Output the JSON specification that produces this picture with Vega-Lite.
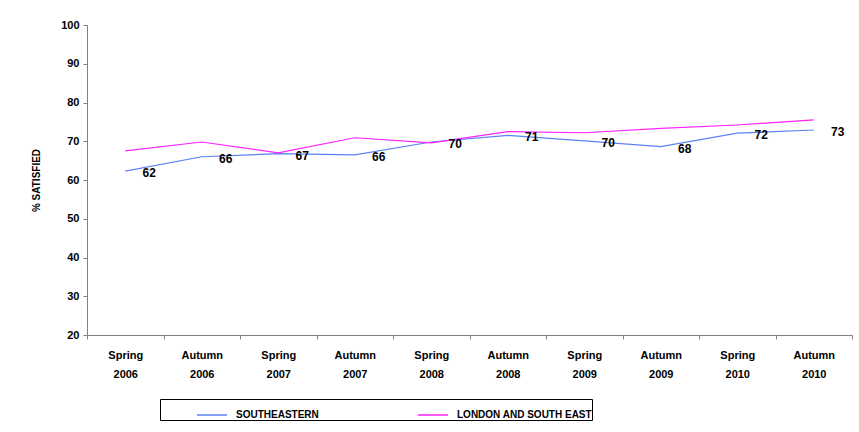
{
  "$schema": "https://vega.github.io/schema/vega-lite/v6.json",
  "width": 765,
  "height": 310,
  "autosize": {"type": "none"},
  "padding": {"left": 87, "top": 25, "right": 7, "bottom": 97},
  "background": "white",
  "config": {
    "view": {"stroke": null},
    "font": "Liberation Sans"
  },
  "data": {
    "values": [
      {"period": "Spring 2006", "series": "SOUTHEASTERN", "value": 62.3, "label": "62"},
      {"period": "Autumn 2006", "series": "SOUTHEASTERN", "value": 66.0, "label": "66"},
      {"period": "Spring 2007", "series": "SOUTHEASTERN", "value": 66.8, "label": "67"},
      {"period": "Autumn 2007", "series": "SOUTHEASTERN", "value": 66.5, "label": "66"},
      {"period": "Spring 2008", "series": "SOUTHEASTERN", "value": 69.8, "label": "70"},
      {"period": "Autumn 2008", "series": "SOUTHEASTERN", "value": 71.5, "label": "71"},
      {"period": "Spring 2009", "series": "SOUTHEASTERN", "value": 70.1, "label": "70"},
      {"period": "Autumn 2009", "series": "SOUTHEASTERN", "value": 68.6, "label": "68"},
      {"period": "Spring 2010", "series": "SOUTHEASTERN", "value": 72.1, "label": "72"},
      {"period": "Autumn 2010", "series": "SOUTHEASTERN", "value": 72.9, "label": "73"},
      {"period": "Spring 2006", "series": "LONDON AND SOUTH EAST", "value": 67.5, "label": ""},
      {"period": "Autumn 2006", "series": "LONDON AND SOUTH EAST", "value": 69.8, "label": ""},
      {"period": "Spring 2007", "series": "LONDON AND SOUTH EAST", "value": 67.0, "label": ""},
      {"period": "Autumn 2007", "series": "LONDON AND SOUTH EAST", "value": 70.9, "label": ""},
      {"period": "Spring 2008", "series": "LONDON AND SOUTH EAST", "value": 69.6, "label": ""},
      {"period": "Autumn 2008", "series": "LONDON AND SOUTH EAST", "value": 72.5, "label": ""},
      {"period": "Spring 2009", "series": "LONDON AND SOUTH EAST", "value": 72.2, "label": ""},
      {"period": "Autumn 2009", "series": "LONDON AND SOUTH EAST", "value": 73.3, "label": ""},
      {"period": "Spring 2010", "series": "LONDON AND SOUTH EAST", "value": 74.2, "label": ""},
      {"period": "Autumn 2010", "series": "LONDON AND SOUTH EAST", "value": 75.5, "label": ""}
    ]
  },
  "encoding": {
    "x": {
      "field": "period",
      "type": "ordinal",
      "sort": null,
      "scale": {"paddingInner": 0, "paddingOuter": 0},
      "axis": {
        "title": null,
        "labelAngle": 0,
        "labelExpr": "split(datum.label, ' ')",
        "labelFont": "Liberation Sans",
        "labelFontWeight": "bold",
        "labelFontSize": 11,
        "labelColor": "black",
        "labelLineHeight": 19,
        "labelPadding": 10,
        "tickBand": "extent",
        "tickSize": 4,
        "tickColor": "#808080",
        "domainColor": "#808080",
        "grid": false
      }
    },
    "y": {
      "field": "value",
      "type": "quantitative",
      "scale": {"domain": [20, 100], "nice": false, "zero": false},
      "axis": {
        "title": "% SATISFIED",
        "titleFont": "Liberation Sans",
        "titleFontWeight": "bold",
        "titleFontSize": 10,
        "titleColor": "black",
        "titlePadding": 19,
        "values": [20, 30, 40, 50, 60, 70, 80, 90, 100],
        "labelFont": "Liberation Sans",
        "labelFontWeight": "bold",
        "labelFontSize": 11,
        "labelColor": "black",
        "labelPadding": 4,
        "tickSize": 4,
        "tickColor": "#808080",
        "domainColor": "#808080",
        "grid": false
      }
    }
  },
  "layer": [
    {
      "mark": {"type": "line", "strokeWidth": 1.2},
      "encoding": {
        "color": {
          "field": "series",
          "type": "nominal",
          "sort": ["SOUTHEASTERN", "LONDON AND SOUTH EAST"],
          "scale": {"domain": ["SOUTHEASTERN", "LONDON AND SOUTH EAST"], "range": ["#5b82f5", "#ff22ff"]},
          "legend": {
            "title": null,
            "orient": "none",
            "legendX": 73,
            "legendY": 374,
            "direction": "horizontal",
            "columns": 2,
            "columnPadding": 62,
            "symbolType": "stroke",
            "symbolSize": 900,
            "symbolStrokeWidth": 1.5,
            "symbolOffset": 36,
            "labelFont": "Liberation Sans",
            "labelFontWeight": "bold",
            "labelFontSize": 10,
            "labelColor": "black",
            "labelOffset": 8,
            "padding": 0,
            "strokeColor": "black",
            "fillColor": "white"
          }
        }
      }
    },
    {
      "mark": {"type": "text", "dx": 24, "dy": 2, "font": "Liberation Sans", "fontWeight": "bold", "fontSize": 12, "color": "black"},
      "encoding": {
        "text": {"field": "label"}
      }
    }
  ]
}
